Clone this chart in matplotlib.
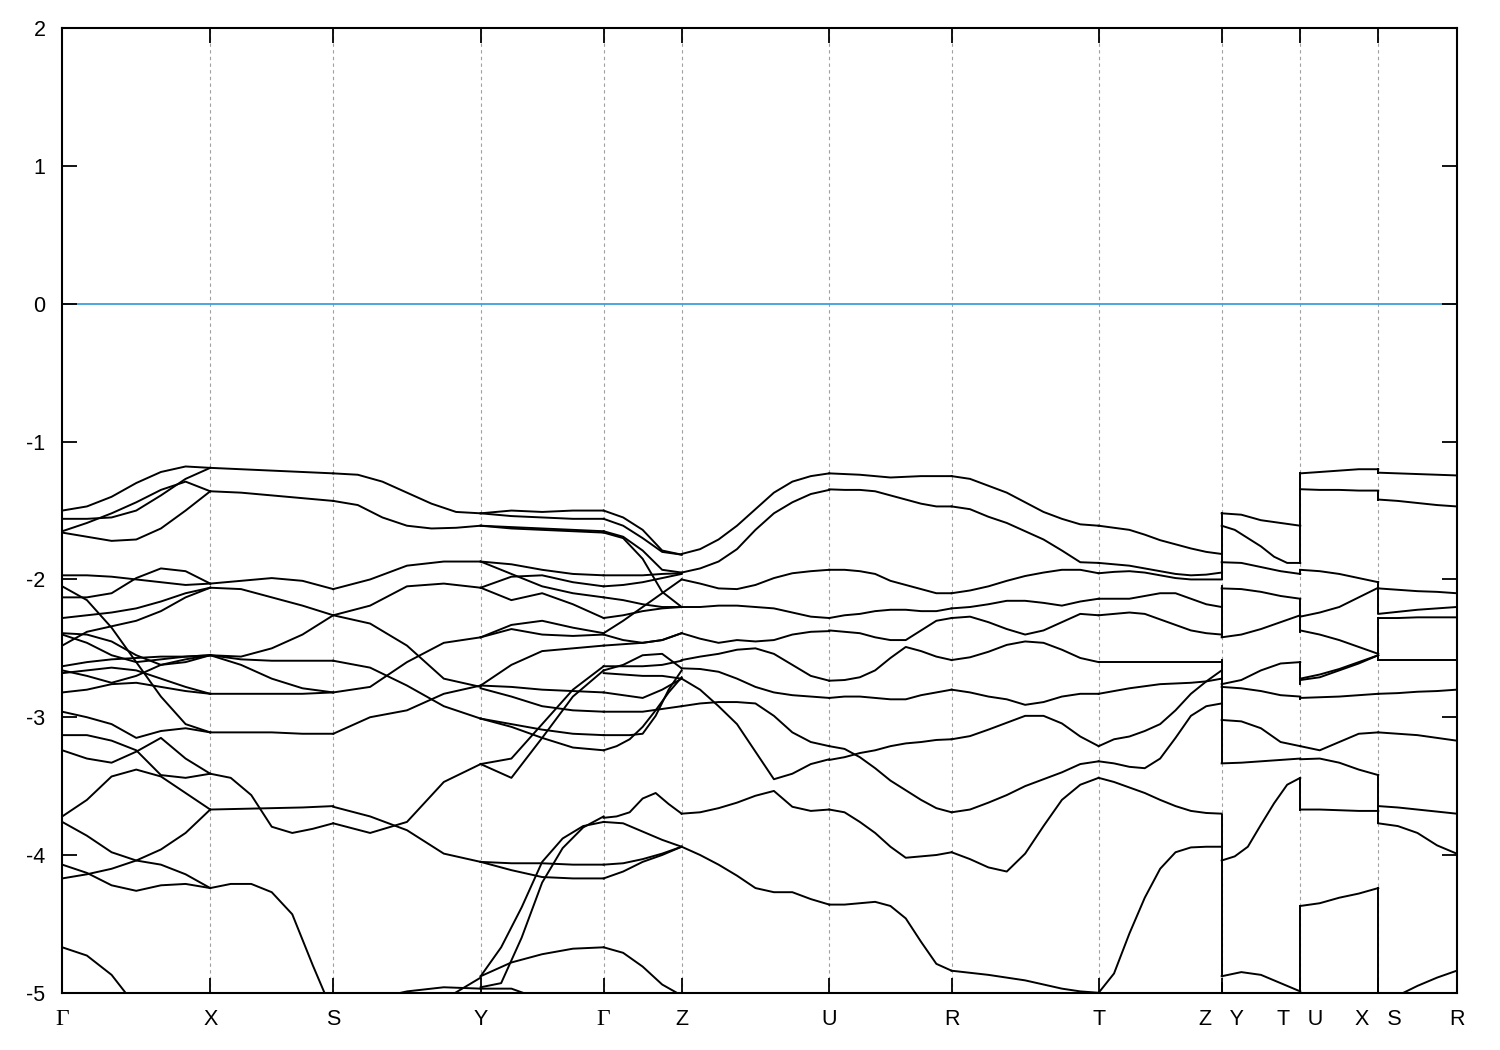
import numpy as np
import matplotlib
matplotlib.use("Agg")
import matplotlib.pyplot as plt

# -------------------------------------------------------
# k-path: distance of each high-symmetry point along the path
# -------------------------------------------------------
k_ticks = [0.0, 148.0, 271.0, 418.4, 541.4, 619.4, 767.0, 889.4,
           1036.4, 1159.4, 1238.0, 1316.0, 1394.4]
k_labels = ["Γ", "X", "S", "Y", "Γ", "Z", "U", "R", "T",
            "Z   Y", "T   U", "X   S", "R"]

# -------------------------------------------------------
# Bands, one list per segment.  Each band: energies (eV) read at
# evenly spaced points from the left k-point to the right one.
# -------------------------------------------------------
seg_GX = [
    [-1.50, -1.47, -1.40, -1.30, -1.22, -1.18, -1.19],
    [-1.56, -1.56, -1.55, -1.50, -1.39, -1.27, -1.19],
    [-1.65, -1.59, -1.52, -1.44, -1.35, -1.29, -1.36],
    [-1.66, -1.69, -1.72, -1.71, -1.63, -1.50, -1.36],
    [-1.97, -1.97, -1.98, -2.00, -2.02, -2.04, -2.03],
    [-2.13, -2.13, -2.10, -1.99, -1.92, -1.94, -2.03],
    [-2.28, -2.26, -2.24, -2.21, -2.16, -2.10, -2.06],
    [-2.48, -2.38, -2.34, -2.30, -2.23, -2.13, -2.06],
    [-2.05, -2.15, -2.35, -2.60, -2.85, -3.05, -3.11],
    [-2.39, -2.40, -2.45, -2.55, -2.62, -2.60, -2.55],
    [-2.40, -2.46, -2.55, -2.60, -2.58, -2.56, -2.55],
    [-2.63, -2.60, -2.58, -2.57, -2.56, -2.56, -2.55],
    [-2.66, -2.70, -2.75, -2.70, -2.62, -2.58, -2.55],
    [-2.68, -2.66, -2.64, -2.66, -2.72, -2.78, -2.83],
    [-2.82, -2.80, -2.76, -2.75, -2.78, -2.81, -2.83],
    [-2.96, -3.00, -3.05, -3.15, -3.10, -3.08, -3.11],
    [-3.13, -3.13, -3.17, -3.24, -3.42, -3.44, -3.41],
    [-3.24, -3.30, -3.33, -3.25, -3.15, -3.30, -3.41],
    [-3.72, -3.60, -3.43, -3.38, -3.43, -3.55, -3.67],
    [-3.76, -3.86, -3.98, -4.04, -4.07, -4.14, -4.24],
    [-4.07, -4.13, -4.22, -4.26, -4.22, -4.21, -4.24],
    [-4.17, -4.14, -4.10, -4.04, -3.96, -3.84, -3.67],
    [-4.67, -4.73, -4.87, -5.10, -5.40, -5.60, -5.70],
]

seg_XS = [
    [-1.19, -1.20, -1.21, -1.22, -1.23],
    [-1.36, -1.37, -1.39, -1.41, -1.43],
    [-2.03, -2.01, -1.99, -2.01, -2.07],
    [-2.06, -2.07, -2.13, -2.19, -2.26],
    [-2.55, -2.56, -2.50, -2.40, -2.26],
    [-2.55, -2.58, -2.59, -2.59, -2.59],
    [-2.55, -2.62, -2.72, -2.79, -2.82],
    [-2.83, -2.83, -2.83, -2.83, -2.82],
    [-3.11, -3.11, -3.11, -3.12, -3.12],
    [-3.41, -3.44, -3.565, -3.795, -3.84, -3.81, -3.77],
    [-3.67, -3.665, -3.66, -3.655, -3.645],
    [-4.24, -4.21, -4.21, -4.27, -4.43, -4.80, -5.15],
]

seg_SY = [
    [-1.23, -1.24, -1.29, -1.37, -1.45, -1.51, -1.52],
    [-1.43, -1.46, -1.55, -1.61, -1.63, -1.625, -1.61],
    [-2.07, -2.00, -1.90, -1.87, -1.87],
    [-2.26, -2.19, -2.05, -2.03, -2.06],
    [-2.26, -2.32, -2.48, -2.72, -2.78],
    [-2.59, -2.64, -2.77, -2.92, -3.01],
    [-2.82, -2.78, -2.60, -2.46, -2.42],
    [-3.12, -3.00, -2.95, -2.83, -2.77],
    [-3.65, -3.72, -3.82, -3.99, -4.05],
    [-3.77, -3.84, -3.76, -3.47, -3.34],
    [-5.30, -5.05, -4.99, -4.96, -4.97],
    [-5.30, -5.30, -5.30, -5.05, -4.89],
]

seg_YG = [
    [-1.52, -1.50, -1.51, -1.50, -1.50],
    [-1.52, -1.54, -1.55, -1.56, -1.56],
    [-1.61, -1.62, -1.63, -1.64, -1.65],
    [-1.61, -1.63, -1.64, -1.65, -1.66],
    [-1.87, -1.89, -1.93, -1.96, -1.97],
    [-2.06, -1.98, -1.97, -2.02, -2.05],
    [-1.87, -1.96, -2.05, -2.10, -2.13],
    [-2.06, -2.15, -2.10, -2.18, -2.28],
    [-2.42, -2.33, -2.30, -2.35, -2.39],
    [-2.42, -2.36, -2.40, -2.41, -2.40],
    [-2.77, -2.62, -2.52, -2.50, -2.48],
    [-2.79, -2.85, -2.92, -2.95, -2.96],
    [-2.77, -2.78, -2.80, -2.81, -2.82],
    [-3.01, -3.05, -3.09, -3.12, -3.13],
    [-3.01, -3.07, -3.15, -3.22, -3.24],
    [-3.34, -3.30, -3.05, -2.80, -2.63],
    [-3.34, -3.44, -3.15, -2.85, -2.66],
    [-4.05, -4.11, -4.16, -4.17, -4.17],
    [-4.05, -4.06, -4.06, -4.07, -4.07],
    [-4.88, -4.67, -4.38, -4.05, -3.88, -3.79, -3.76],
    [-4.96, -4.93, -4.60, -4.20, -3.95, -3.80, -3.72],
    [-4.88, -4.78, -4.72, -4.68, -4.67],
    [-4.97, -4.97, -5.05, -5.20, -5.40],
]

seg_GZ = [
    [-1.50, -1.55, -1.64, -1.79, -1.82],
    [-1.56, -1.61, -1.70, -1.80, -1.82],
    [-1.65, -1.69, -1.79, -1.93, -1.95],
    [-1.66, -1.70, -1.85, -2.09, -2.20],
    [-1.97, -1.97, -1.97, -1.96, -1.955],
    [-2.05, -2.04, -2.02, -1.99, -1.96],
    [-2.13, -2.15, -2.18, -2.20, -2.20],
    [-2.39, -2.30, -2.20, -2.10, -2.00],
    [-2.28, -2.26, -2.23, -2.21, -2.20],
    [-2.40, -2.44, -2.46, -2.44, -2.39],
    [-2.48, -2.47, -2.46, -2.44, -2.39],
    [-2.63, -2.63, -2.63, -2.62, -2.59],
    [-2.66, -2.62, -2.55, -2.54, -2.645],
    [-2.68, -2.69, -2.70, -2.70, -2.72],
    [-2.82, -2.84, -2.86, -2.80, -2.72],
    [-2.96, -2.96, -2.96, -2.94, -2.92],
    [-3.13, -3.13, -3.13, -3.12, -2.99, -2.80, -2.66],
    [-3.24, -3.21, -3.16, -3.07, -2.95, -2.82, -2.71],
    [-3.73, -3.72, -3.69, -3.59, -3.55, -3.63, -3.70],
    [-3.76, -3.77, -3.83, -3.89, -3.94],
    [-4.07, -4.06, -4.03, -3.99, -3.94],
    [-4.17, -4.12, -4.05, -4.00, -3.94],
    [-4.67, -4.71, -4.81, -4.94, -5.02],
]

seg_ZU = [
    [-1.815, -1.78, -1.71, -1.61, -1.49, -1.37, -1.29, -1.25, -1.23],
    [-1.95, -1.92, -1.87, -1.78, -1.64, -1.52, -1.44, -1.38, -1.35],
    [-2.00, -2.03, -2.065, -2.07, -2.04, -1.99, -1.955, -1.94, -1.93],
    [-2.20, -2.20, -2.19, -2.19, -2.20, -2.21, -2.24, -2.27, -2.28],
    [-2.39, -2.43, -2.46, -2.44, -2.45, -2.44, -2.40, -2.38, -2.375],
    [-2.585, -2.56, -2.54, -2.51, -2.50, -2.54, -2.62, -2.70, -2.735],
    [-2.645, -2.65, -2.67, -2.72, -2.78, -2.82, -2.84, -2.85, -2.86],
    [-2.72, -2.80, -2.92, -3.05, -3.25, -3.45, -3.41, -3.34, -3.305],
    [-2.92, -2.90, -2.89, -2.89, -2.90, -2.99, -3.11, -3.18, -3.21],
    [-3.70, -3.69, -3.66, -3.62, -3.57, -3.535, -3.65, -3.68, -3.67],
    [-3.94, -4.00, -4.07, -4.15, -4.24, -4.27, -4.27, -4.32, -4.36],
    [-5.00, -5.20, -5.40, -5.50, -5.50],
]

seg_UR = [
    [-1.23, -1.24, -1.26, -1.25, -1.25],
    [-1.346, -1.35, -1.35, -1.36, -1.39, -1.42, -1.45, -1.47, -1.47],
    [-1.93, -1.93, -1.94, -1.96, -2.01, -2.04, -2.07, -2.10, -2.10],
    [-2.28, -2.26, -2.25, -2.23, -2.22, -2.22, -2.23, -2.23, -2.21],
    [-2.37, -2.38, -2.39, -2.42, -2.44, -2.44, -2.37, -2.30, -2.28],
    [-2.735, -2.73, -2.71, -2.66, -2.57, -2.49, -2.52, -2.56, -2.585],
    [-2.86, -2.85, -2.85, -2.86, -2.87, -2.87, -2.84, -2.82, -2.80],
    [-3.21, -3.23, -3.29, -3.37, -3.46, -3.53, -3.60, -3.66, -3.69],
    [-3.31, -3.29, -3.26, -3.24, -3.21, -3.19, -3.18, -3.165, -3.16],
    [-3.67, -3.69, -3.76, -3.84, -3.94, -4.02, -4.01, -4.00, -3.98],
    [-4.36, -4.36, -4.35, -4.34, -4.37, -4.46, -4.63, -4.79, -4.84],
]

seg_RT = [
    [-1.25, -1.27, -1.32, -1.37, -1.44, -1.51, -1.56, -1.60, -1.61],
    [-1.47, -1.49, -1.545, -1.59, -1.65, -1.71, -1.79, -1.875, -1.88],
    [-2.10, -2.08, -2.05, -2.01, -1.975, -1.95, -1.93, -1.93, -1.955],
    [-2.21, -2.20, -2.18, -2.155, -2.155, -2.17, -2.19, -2.16, -2.14],
    [-2.28, -2.27, -2.31, -2.36, -2.40, -2.37, -2.31, -2.25, -2.26],
    [-2.585, -2.565, -2.525, -2.475, -2.45, -2.46, -2.51, -2.57, -2.60],
    [-2.80, -2.82, -2.85, -2.87, -2.91, -2.89, -2.85, -2.83, -2.83],
    [-3.16, -3.137, -3.09, -3.04, -2.99, -2.99, -3.045, -3.14, -3.21],
    [-3.69, -3.67, -3.62, -3.565, -3.50, -3.45, -3.40, -3.34, -3.32],
    [-3.98, -4.03, -4.09, -4.12, -3.99, -3.79, -3.60, -3.49, -3.44],
    [-4.84, -4.855, -4.87, -4.89, -4.91, -4.94, -4.97, -4.99, -5.00],
]

seg_TZ = [
    [-1.61, -1.625, -1.64, -1.675, -1.715, -1.745, -1.775, -1.80, -1.815],
    [-1.88, -1.89, -1.90, -1.92, -1.94, -1.96, -1.97, -1.965, -1.95],
    [-1.955, -1.945, -1.94, -1.95, -1.97, -1.99, -2.00, -2.00, -2.00],
    [-2.14, -2.14, -2.14, -2.12, -2.10, -2.10, -2.14, -2.18, -2.20],
    [-2.26, -2.25, -2.24, -2.25, -2.29, -2.33, -2.37, -2.39, -2.40],
    [-2.60, -2.60, -2.60, -2.60, -2.60],
    [-2.83, -2.81, -2.79, -2.775, -2.76, -2.755, -2.75, -2.74, -2.72],
    [-3.21, -3.16, -3.14, -3.10, -3.05, -2.95, -2.83, -2.74, -2.66],
    [-3.32, -3.335, -3.36, -3.37, -3.30, -3.15, -2.99, -2.92, -2.90],
    [-3.44, -3.47, -3.51, -3.55, -3.60, -3.645, -3.68, -3.695, -3.70],
    [-5.00, -4.86, -4.57, -4.31, -4.10, -3.98, -3.945, -3.94, -3.94],
]

seg_YT = [
    [-1.52, -1.53, -1.57, -1.59, -1.61],
    [-1.61, -1.64, -1.70, -1.76, -1.835, -1.88, -1.88],
    [-1.875, -1.88, -1.91, -1.94, -1.96],
    [-2.065, -2.07, -2.09, -2.12, -2.14],
    [-2.42, -2.40, -2.36, -2.31, -2.26],
    [-2.76, -2.73, -2.66, -2.61, -2.60],
    [-2.78, -2.79, -2.81, -2.84, -2.85],
    [-3.02, -3.03, -3.08, -3.18, -3.21],
    [-3.335, -3.33, -3.32, -3.31, -3.30],
    [-4.04, -4.01, -3.94, -3.78, -3.625, -3.49, -3.44],
    [-4.88, -4.85, -4.87, -4.93, -4.99],
]

seg_UX = [
    [-1.23, -1.22, -1.21, -1.20, -1.20],
    [-1.345, -1.35, -1.35, -1.355, -1.355],
    [-1.93, -1.94, -1.96, -1.99, -2.02],
    [-2.27, -2.24, -2.20, -2.13, -2.06],
    [-2.37, -2.40, -2.44, -2.49, -2.54],
    [-2.73, -2.71, -2.66, -2.61, -2.55],
    [-2.72, -2.69, -2.65, -2.60, -2.55],
    [-2.86, -2.855, -2.85, -2.84, -2.83],
    [-3.21, -3.24, -3.18, -3.12, -3.11],
    [-3.305, -3.30, -3.33, -3.38, -3.42],
    [-3.67, -3.67, -3.675, -3.68, -3.68],
    [-4.37, -4.35, -4.31, -4.28, -4.24],
]

seg_SR = [
    [-1.225, -1.23, -1.235, -1.24, -1.245],
    [-1.42, -1.43, -1.445, -1.46, -1.47],
    [-2.065, -2.075, -2.085, -2.09, -2.10],
    [-2.25, -2.235, -2.22, -2.21, -2.20],
    [-2.28, -2.28, -2.275, -2.275, -2.275],
    [-2.585, -2.585, -2.585, -2.585, -2.585],
    [-2.83, -2.825, -2.815, -2.81, -2.80],
    [-3.11, -3.12, -3.13, -3.15, -3.17],
    [-3.645, -3.655, -3.67, -3.685, -3.70],
    [-3.77, -3.79, -3.84, -3.93, -3.99],
    [-5.20, -5.02, -4.95, -4.89, -4.84],
]

segments = [seg_GX, seg_XS, seg_SY, seg_YG, seg_GZ, seg_ZU, seg_UR,
            seg_RT, seg_TZ, seg_YT, seg_UX, seg_SR]

# vertical jumps where the path is discontinuous (k index, list of spans)
jumps_ZY = [(-1.52, -2.00), (-2.05, -2.42), (-2.585, -3.335),
            (-3.71, -4.88), (-4.93, -5.0)]
jumps_TU = [(-1.23, -1.88), (-1.93, -1.96), (-2.14, -2.38),
            (-2.60, -2.76), (-2.85, -2.87), (-3.44, -3.67), (-4.37, -5.0)]
jumps_XS = [(-1.20, -1.225), (-1.355, -1.42), (-2.02, -2.245),
            (-2.28, -2.585), (-3.42, -3.77), (-4.24, -5.0)]
jumps = {9: jumps_ZY, 10: jumps_TU, 11: jumps_XS}

# -------------------------------------------------------
# Plot
# -------------------------------------------------------
plt.rcParams["font.family"] = ["Liberation Sans", "DejaVu Sans"]

fig = plt.figure(figsize=(15, 10.5), dpi=100)
ax = fig.add_axes([0.0415, 0.0545, 0.9296, 0.9185])

for k in k_ticks[1:-1]:
    ax.axvline(k, color="#a0a0a0", lw=0.8, ls=(0, (3, 3)), zorder=0)

ax.axhline(0, color="#3d9fdc", lw=1.3, zorder=1)

for i, seg in enumerate(segments):
    x0, x1 = k_ticks[i], k_ticks[i + 1]
    for band in seg:
        xs = np.linspace(x0, x1, len(band))
        ax.plot(xs, band, color="black", lw=1.4, zorder=2)

for idx, spans in jumps.items():
    for top, bot in spans:
        ax.plot([k_ticks[idx], k_ticks[idx]], [top, bot], color="black",
                lw=1.4, zorder=2)

ax.set_xlim(k_ticks[0], k_ticks[-1])
ax.set_ylim(-5, 2)

ax.set_xticks(k_ticks)
ax.set_xticklabels(k_labels)
yt = [2, 1, 0, -1, -2, -3, -4, -5]
ax.set_yticks(yt)
ax.set_yticklabels([str(v) for v in yt])

ax.tick_params(direction="in", length=11, width=1.3, top=True, right=True,
               labelsize=15.5, colors="black")
ax.tick_params(axis="x", pad=12)
ax.tick_params(axis="y", pad=12)

for lbl in ax.get_xticklabels():
    if lbl.get_text() == "Γ":
        lbl.set_family(["Liberation Serif", "DejaVu Serif"])
        lbl.set_fontsize(17)

for sp in ax.spines.values():
    sp.set_linewidth(1.5)

fig.savefig("out.png", dpi=100)
